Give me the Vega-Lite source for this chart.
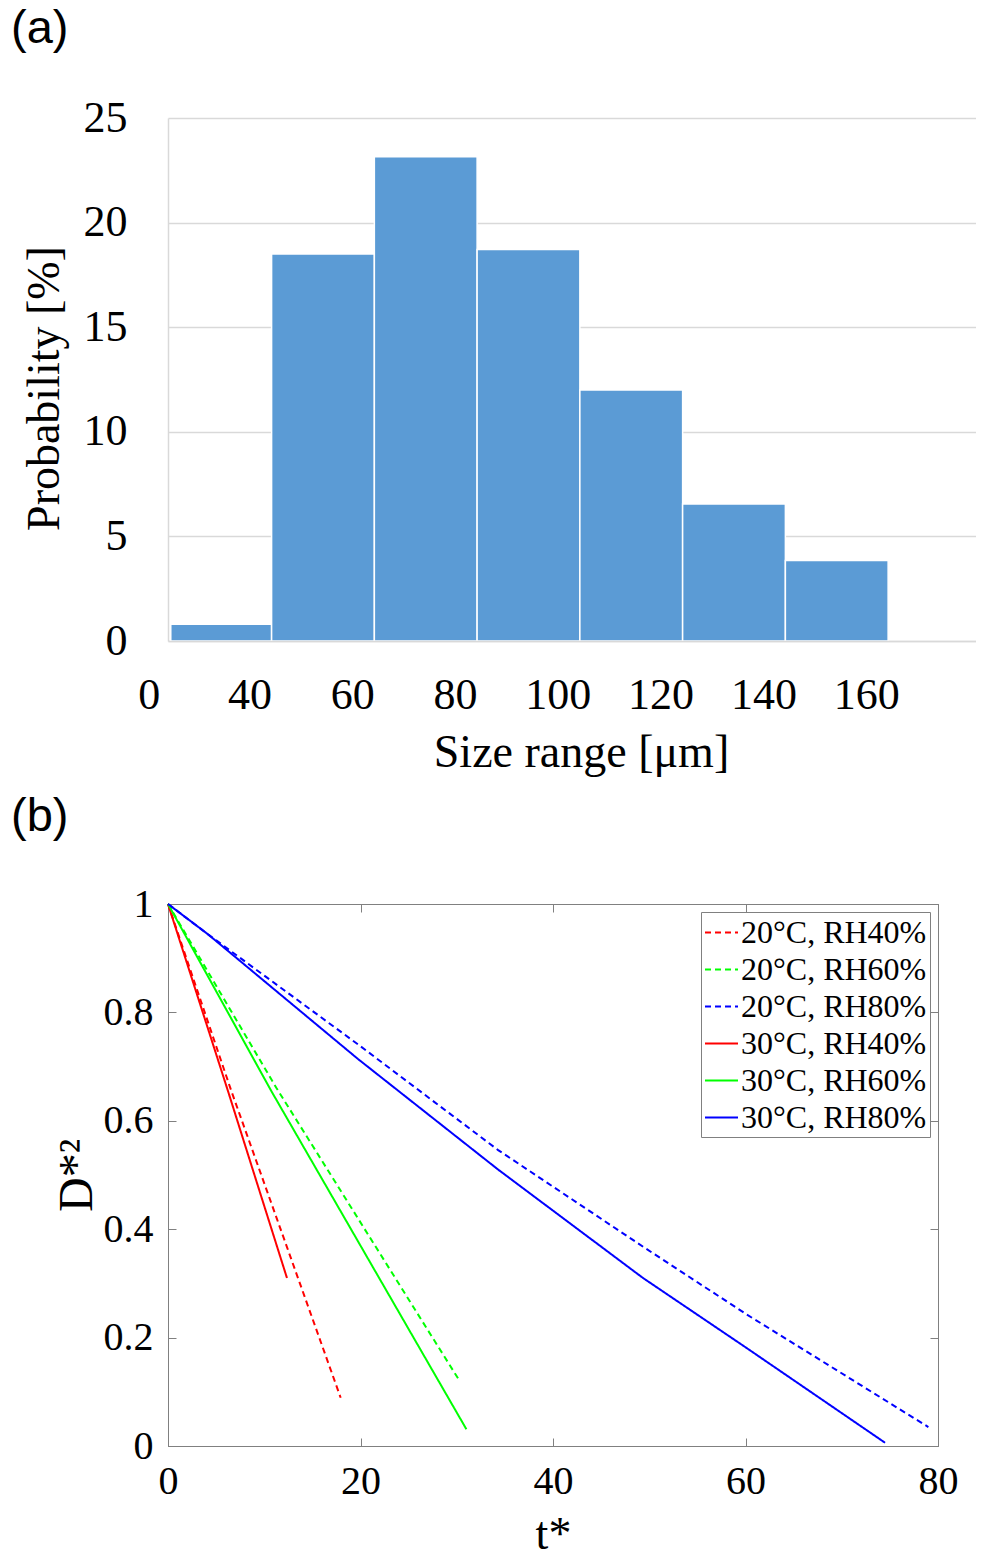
{
  "$schema": "https://vega.github.io/schema/vega-lite/v6.json",
  "padding": {"left": 10, "top": 5, "right": 0, "bottom": 0},
  "background": "white",
  "config": {
    "font": "Liberation Serif",
    "axis": {"labelFont": "Liberation Serif", "titleFont": "Liberation Serif", "titleFontWeight": "normal", "labelColor": "#000", "titleColor": "#000", "labelFlush": false, "labelOverlap": false, "grid": false},
    "title": {"font": "Liberation Sans", "fontSize": 47, "fontWeight": "normal", "anchor": "start", "frame": "group", "baseline": "alphabetic", "offset": 43, "color": "#000"}
  },
  "datasets": {
    "hist": [
      {"lower": 0, "upper": 40, "probability": 0.8},
      {"lower": 40, "upper": 60, "probability": 18.5},
      {"lower": 60, "upper": 80, "probability": 23.15},
      {"lower": 80, "upper": 100, "probability": 18.72},
      {"lower": 100, "upper": 120, "probability": 12.0},
      {"lower": 120, "upper": 140, "probability": 6.55},
      {"lower": 140, "upper": 160, "probability": 3.85}
    ],
    "curves": [
      {"series": "20°C, RH40%", "t": 0, "d2": 1},
      {"series": "20°C, RH40%", "t": 6.58, "d2": 0.655},
      {"series": "20°C, RH40%", "t": 17.94, "d2": 0.089},
      {"series": "20°C, RH60%", "t": 0, "d2": 1},
      {"series": "20°C, RH60%", "t": 11.25, "d2": 0.661},
      {"series": "20°C, RH60%", "t": 30.3, "d2": 0.12},
      {"series": "20°C, RH80%", "t": 0, "d2": 1},
      {"series": "20°C, RH80%", "t": 4.16, "d2": 0.944},
      {"series": "20°C, RH80%", "t": 19.74, "d2": 0.741},
      {"series": "20°C, RH80%", "t": 34.3, "d2": 0.546},
      {"series": "20°C, RH80%", "t": 49.5, "d2": 0.366},
      {"series": "20°C, RH80%", "t": 60.1, "d2": 0.243},
      {"series": "20°C, RH80%", "t": 79.0, "d2": 0.035},
      {"series": "30°C, RH40%", "t": 0, "d2": 1},
      {"series": "30°C, RH40%", "t": 6.23, "d2": 0.655},
      {"series": "30°C, RH40%", "t": 12.36, "d2": 0.31},
      {"series": "30°C, RH60%", "t": 0, "d2": 1},
      {"series": "30°C, RH60%", "t": 10.73, "d2": 0.655},
      {"series": "30°C, RH60%", "t": 31.0, "d2": 0.031},
      {"series": "30°C, RH80%", "t": 0, "d2": 1},
      {"series": "30°C, RH80%", "t": 4.16, "d2": 0.944},
      {"series": "30°C, RH80%", "t": 19.74, "d2": 0.714},
      {"series": "30°C, RH80%", "t": 34.3, "d2": 0.51},
      {"series": "30°C, RH80%", "t": 49.35, "d2": 0.31},
      {"series": "30°C, RH80%", "t": 60.1, "d2": 0.181},
      {"series": "30°C, RH80%", "t": 74.5, "d2": 0.006}
    ]
  },
  "concat": [
    {
      "width": 808,
      "height": 523,
      "title": {"text": "(a)", "dx": -157},
      "view": {"stroke": null},
      "data": {"name": "hist"},
      "mark": {"type": "bar", "orient": "vertical", "fill": "#5B9BD5", "stroke": "white", "strokeWidth": 1.5},
      "encoding": {
        "x": {
          "field": "lower", "type": "quantitative",
          "scale": {"domain": [0, 40, 176], "range": [0, 103.6, 808], "zero": false, "nice": false},
          "axis": {"values": [0, 40, 60, 80, 100, 120, 140, 160], "ticks": false, "domainColor": "#D9D9D9", "domainWidth": 1.5, "labelFontSize": 44, "labelPadding": 32, "labelOffset": -22, "title": "Size range [μm]", "titleFontSize": 46, "titlePadding": 13, "titleX": 413, "zindex": 1}
        },
        "x2": {"field": "upper"},
        "y": {
          "field": "probability", "type": "quantitative",
          "scale": {"domain": [0, 25], "nice": false},
          "axis": {"values": [0, 5, 10, 15, 20, 25], "ticks": false, "grid": true, "gridColor": "#D9D9D9", "gridWidth": 1.5, "domainColor": "#D9D9D9", "domainWidth": 1.5, "labelFontSize": 44, "labelPadding": 41, "title": "Probability [%]", "titleFontSize": 46, "titlePadding": 15, "titleY": 270}
        },
        "y2": {"datum": 0}
      }
    },
    {
      "width": 770,
      "height": 542,
      "title": {"text": "(b)", "dx": -157},
      "view": {"stroke": "#808080"},
      "data": {"name": "curves"},
      "resolve": {"axis": {"x": "independent", "y": "independent"}},
      "layer": [
        {
          "mark": {"type": "line", "strokeWidth": 2},
          "encoding": {
            "x": {
              "field": "t", "type": "quantitative",
              "scale": {"domain": [0, 80], "nice": false},
              "axis": {"orient": "bottom", "values": [0, 20, 40, 60, 80], "format": "~f", "tickSize": -8, "tickColor": "#808080", "domainColor": "#808080", "labelFontSize": 40, "labelPadding": 23, "title": "t*", "titleFontSize": 46, "titlePadding": 11}
            },
            "y": {
              "field": "d2", "type": "quantitative",
              "scale": {"domain": [0, 1], "nice": false},
              "axis": {"orient": "left", "values": [0, 0.2, 0.4, 0.6, 0.8, 1], "format": "~f", "tickSize": -8, "tickColor": "#808080", "domainColor": "#808080", "labelFontSize": 40, "labelPadding": 23, "title": "D*²", "titleFontSize": 48, "titlePadding": 2}
            },
            "color": {
              "field": "series", "type": "nominal",
              "scale": {"domain": ["20°C, RH40%", "20°C, RH60%", "20°C, RH80%", "30°C, RH40%", "30°C, RH60%", "30°C, RH80%"], "range": ["#FF0000", "#00FF00", "#0000FF", "#FF0000", "#00FF00", "#0000FF"]},
              "legend": {"title": null, "orient": "top-right", "offset": 8, "symbolType": "stroke", "symbolSize": 1089, "symbolStrokeWidth": 2, "labelFont": "Liberation Serif", "labelFontSize": 32, "labelColor": "#000", "labelOffset": 2, "padding": 3, "rowPadding": 3, "strokeColor": "#808080", "fillColor": "white", "labelLimit": 0}
            },
            "strokeDash": {
              "field": "series", "type": "nominal",
              "scale": {"domain": ["20°C, RH40%", "20°C, RH60%", "20°C, RH80%", "30°C, RH40%", "30°C, RH60%", "30°C, RH80%"], "range": [[6, 4], [6, 4], [6, 4], [1, 0], [1, 0], [1, 0]]},
              "legend": {"title": null, "orient": "top-right", "offset": 8, "symbolType": "stroke", "symbolSize": 1089, "symbolStrokeWidth": 2, "labelFont": "Liberation Serif", "labelFontSize": 32, "labelColor": "#000", "labelOffset": 2, "padding": 3, "rowPadding": 3, "strokeColor": "#808080", "fillColor": "white", "labelLimit": 0}
            }
          }
        },
        {
          "mark": {"type": "line", "opacity": 0},
          "encoding": {
            "x": {
              "field": "t", "type": "quantitative",
              "scale": {"domain": [0, 80], "nice": false},
              "axis": {"orient": "top", "values": [0, 20, 40, 60, 80], "tickSize": -8, "tickColor": "#808080", "domainColor": "#808080", "labels": false, "title": null}
            },
            "y": {
              "field": "d2", "type": "quantitative",
              "scale": {"domain": [0, 1], "nice": false},
              "axis": {"orient": "right", "values": [0, 0.2, 0.4, 0.6, 0.8, 1], "tickSize": -8, "tickColor": "#808080", "domainColor": "#808080", "labels": false, "title": null}
            },
            "detail": {"field": "series"}
          }
        }
      ]
    }
  ],
  "resolve": {"legend": {"color": "independent", "strokeDash": "independent"}},
  "columns": 1,
  "align": "none",
  "spacing": 17
}
